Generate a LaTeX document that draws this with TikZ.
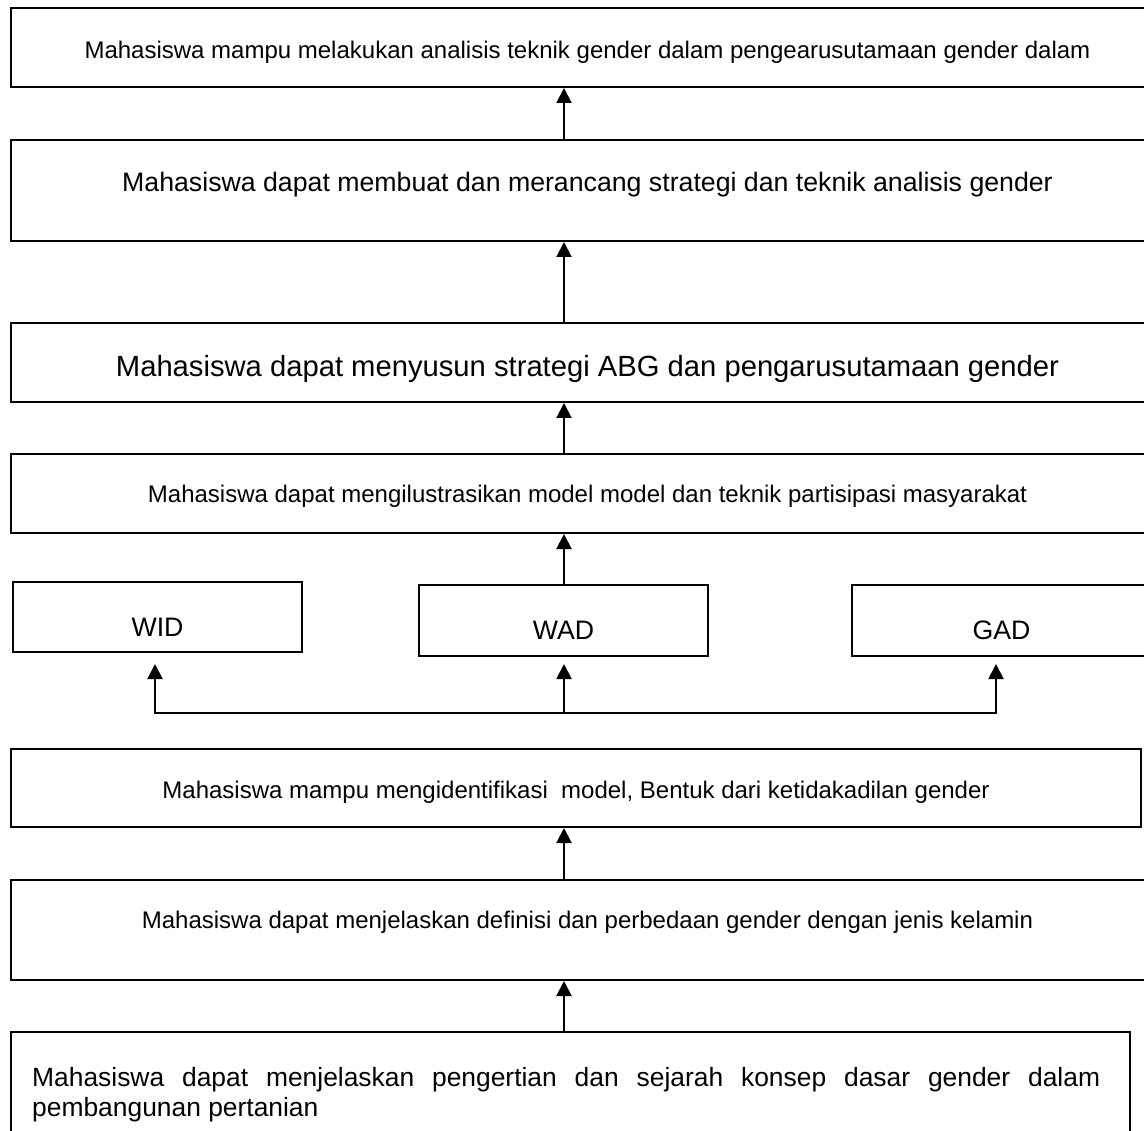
\documentclass[tikz,border=0pt]{standalone}
\usepackage{fontspec}
\setmainfont{Liberation Sans}
\usetikzlibrary{arrows.meta}
\begin{document}
\begin{tikzpicture}[x=1pt,y=-1pt,
  box/.style={draw, line width=2pt, inner sep=0pt, rectangle},
  wide/.style={box, minimum width=1153pt},
  small/.style={font=\fontsize{24}{28}\selectfont},
  mid/.style={font=\fontsize{26.7}{31}\selectfont},
  arr/.style={line width=2pt, -{Triangle[length=15pt,width=15pt]}}]
\useasboundingbox (0,0) rectangle (1144,1131);
\clip (0,0) rectangle (1144,1131);

\coordinate (ax) at (564,0);

\node[wide, small, text height=51pt, text depth=28pt] (b1) at (587.5,47.5)
  {Mahasiswa mampu melakukan analisis teknik gender dalam pengearusutamaan gender dalam};
\node[wide, mid, text height=52pt, text depth=49pt] (b2) at (587.5,190.5)
  {Mahasiswa dapat membuat dan merancang strategi dan teknik analisis gender};
\node[wide, font=\fontsize{29.2}{34}\selectfont, text height=54pt, text depth=25pt] (b3) at (587.5,362.5)
  {Mahasiswa dapat menyusun strategi ABG dan pengarusutamaan gender};
\node[wide, small, text height=49pt, text depth=30pt] (b4) at (587.5,493.5)
  {Mahasiswa dapat mengilustrasikan model model dan teknik partisipasi masyarakat};

\node[box, mid, minimum width=289pt, text height=54pt, text depth=16pt] (wid) at (157.5,617) {WID};
\node[box, mid, minimum width=289pt, text height=54pt, text depth=17pt] (wad) at (563.5,620.5) {WAD};
\node[box, mid, minimum width=299pt, text height=54pt, text depth=17pt] (gad) at (1001.5,620.5) {GAD};

\node[box, small, minimum width=1130pt, text height=49pt, text depth=29pt] (b6) at (576,788)
  {Mahasiswa mampu mengidentifikasi\ \ model, Bentuk dari ketidakadilan gender};
\node[wide, small, text height=48pt, text depth=52pt] (b7) at (587.5,930)
  {Mahasiswa dapat menjelaskan definisi dan perbedaan gender dengan jenis kelamin};
\node[box, minimum width=1119pt, minimum height=108pt] (b8) at (570.5,1086) {};
\node[inner sep=0pt, anchor=base west, font=\fontsize{26.4}{30}\selectfont] (b8t) at (32,1086)
  {\parbox[t]{1068pt}{\hyphenpenalty=10000\exhyphenpenalty=10000 Mahasiswa dapat menjelaskan pengertian dan sejarah konsep dasar gender dalam pembangunan pertanian}};

% vertical chain arrows
\draw[arr] (b2.north -| ax) -- (b1.south -| ax);
\draw[arr] (b3.north -| ax) -- (b2.south -| ax);
\draw[arr] (b4.north -| ax) -- (b3.south -| ax);
\draw[arr] (wad.north -| ax) -- (b4.south -| ax);
\draw[arr] (b7.north -| ax) -- (b6.south -| ax);
\draw[arr] (b8.north -| ax) -- (b7.south -| ax);

% branching connector
\coordinate (j1) at (155,713);
\coordinate (j2) at (564,713);
\coordinate (j3) at (996,713);
\draw[arr, shorten >=11pt] (j2) -| (j1 |- wid.south);
\draw[arr, shorten >=7pt] (j2) -| (j3 |- gad.south);
\draw[arr, shorten >=7pt] (j2) -- (j2 |- wad.south);
\end{tikzpicture}
\end{document}
